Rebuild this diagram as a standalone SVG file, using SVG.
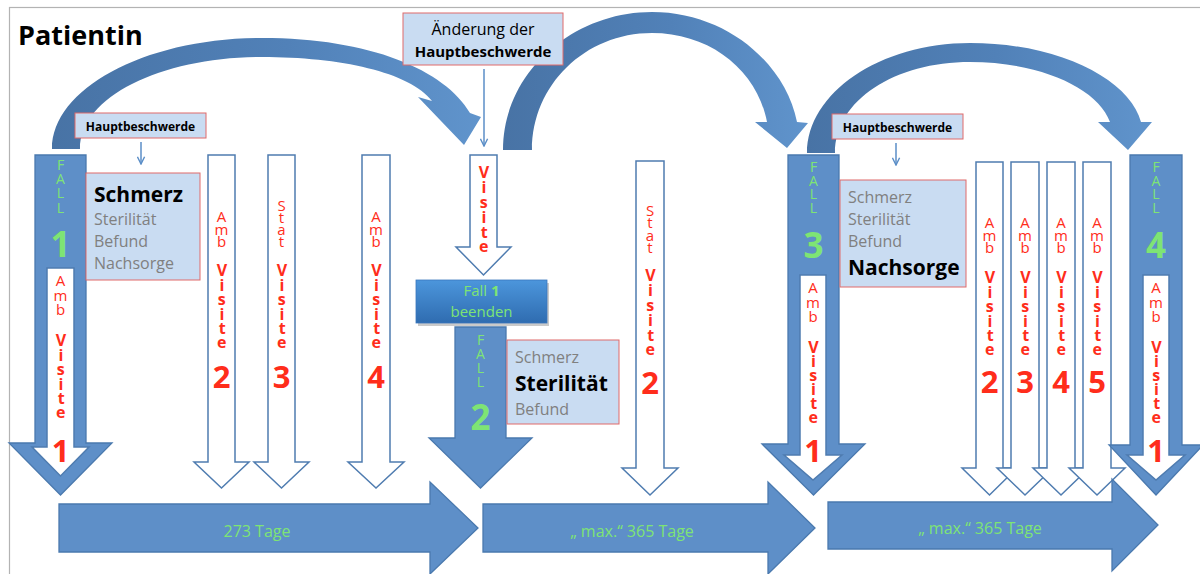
<svg xmlns="http://www.w3.org/2000/svg" width="1200" height="574" viewBox="0 0 1200 574">
<defs>
<linearGradient id="arcg" x1="0" y1="0" x2="1" y2="0">
<stop offset="0" stop-color="#4873a5"/><stop offset="0.55" stop-color="#5181b8"/><stop offset="1" stop-color="#6094cc"/>
</linearGradient>
<linearGradient id="btng" x1="0" y1="0" x2="0" y2="1">
<stop offset="0" stop-color="#4c96dc"/><stop offset="1" stop-color="#2f6cb0"/>
</linearGradient>
<marker id="thin" viewBox="0 0 10 10" refX="9" refY="5" markerWidth="9" markerHeight="9" markerUnits="userSpaceOnUse" orient="auto">
<path d="M1,1 L9,5 L1,9" fill="none" stroke="#5b8ec7" stroke-width="1.6"/>
</marker>
</defs>
<style>
text{font-family:"Open Sans","Liberation Sans",sans-serif}
.v{writing-mode:vertical-rl;text-orientation:upright}
.fall{fill:#5e8fc8;stroke:#4a79ae;stroke-width:1.3}
.vis{fill:#fff;stroke:#4f7cb0;stroke-width:1.5}
.box{fill:#c9dcf2;stroke:#e06a6a;stroke-width:1}
.r{fill:#ff2d1b;font-size:15px}
.rb{fill:#ff2d1b;font-size:16px;font-weight:700}
.rd{fill:#ff2d1b;font-size:31px;font-weight:700}
.g{fill:#7ee474;font-size:14px}
.gd{fill:#7ee474;font-size:35px;font-weight:700}
.gt{fill:#7ee474;font-size:16px}
.gb{fill:#7ee474;font-size:15px}
.gray{fill:#808080;font-size:16px}
.blk{fill:#000;font-size:21px;font-weight:700}
.hb{fill:#000;font-size:12px;font-weight:700}
.thin{stroke:#5b8ec7;stroke-width:1.5;fill:none}
</style>
<rect x="0" y="0" width="1200" height="574" fill="#fff"/>
<rect x="9.5" y="7.5" width="1200" height="600" fill="none" stroke="#b3b3b3" stroke-width="1.2"/>
<text x="18" y="45" style="font-size:27px;font-weight:700;fill:#000">Patientin</text>

<g id="connectors">
<path d="M52,149 C52,88 146,38 262,38 C370,38 445,70 470,113 L481,117 L464,145 L418,97 L432,101 C410,72 340,57 262,57 C165,57 80,95 80,149 Z" fill="url(#arcg)"/>
<path d="M503,150 C503,73 572,12 652,12 C725,12 785,62 797,122 L808,123 L787,148 L755,122 L767,122 C757,70 710,33 652,33 C585,33 532,85 532,150 Z" fill="url(#arcg)"/>
<path d="M807,153 C807,93 880,43 970,43 C1060,43 1130,80 1141,122 L1152,122 L1128,150 L1098,122 L1110,122 C1098,88 1040,62 970,62 C895,62 835,100 835,153 Z" fill="url(#arcg)"/>
<line class="thin" x1="141" y1="142" x2="141" y2="164" marker-end="url(#thin)"/>
<line class="thin" x1="896" y1="143" x2="896" y2="165" marker-end="url(#thin)"/>
<line class="thin" x1="484" y1="69" x2="484" y2="146" marker-end="url(#thin)"/>
</g>

<g id="hb1">
<rect class="box" x="75" y="113" width="131" height="25"/>
<text class="hb" x="140.5" y="131" text-anchor="middle">Hauptbeschwerde</text>
</g>
<g id="hb2">
<rect class="box" x="832" y="114" width="131" height="25"/>
<text class="hb" x="897.5" y="132" text-anchor="middle">Hauptbeschwerde</text>
</g>
<g id="aenderung">
<rect class="box" x="403" y="13" width="160" height="52"/>
<text x="483" y="35" text-anchor="middle" style="font-size:16px;fill:#000">Änderung der</text>
<text x="483" y="57" text-anchor="middle" style="font-size:15px;font-weight:700;fill:#000">Hauptbeschwerde</text>
</g>

<g id="fall1">
<polygon class="fall" points="35,155 86,155 86,443 112,443 60.5,495 9,443 35,443"/>
<text class="g v" x="60.5" y="155" letter-spacing="-4.77">FALL</text>
<text class="gd" x="60.5" y="257" text-anchor="middle">1</text>
<polygon class="vis" points="47,268 74,268 74,447 89,447 60.5,476 32,447 47,447"/>
<text class="r v" x="60.5" y="270" letter-spacing="-5.43">Amb</text>
<text class="rb v" x="60.5" y="329.3" letter-spacing="-7.59">Visite</text>
<text class="rd" x="60.5" y="462" text-anchor="middle">1</text>
</g>

<g id="beschwerden1">
<rect class="box" x="86" y="173" width="114" height="107"/>
<text class="blk" x="94" y="202">Schmerz</text>
<text class="gray" x="94" y="225">Sterilität</text>
<text class="gray" x="94" y="247">Befund</text>
<text class="gray" x="94" y="269">Nachsorge</text>
</g>

<g id="ambvisite2">
<polygon class="vis" points="208,155 235,155 235,462 249,462 221.5,488 194,462 208,462"/>
<text class="r v" x="221.5" y="206" letter-spacing="-7.43">Amb</text>
<text class="rb v" x="221.5" y="259.3" letter-spacing="-7.59">Visite</text>
<text class="rd" x="221.5" y="388" text-anchor="middle">2</text>
</g>
<g id="statvisite3">
<polygon class="vis" points="268,155 295,155 295,462 309,462 281.5,488 254,462 268,462"/>
<text class="r v" x="281.5" y="195" letter-spacing="-8.13">Stat</text>
<text class="rb v" x="281.5" y="259.3" letter-spacing="-7.59">Visite</text>
<text class="rd" x="281.5" y="388" text-anchor="middle">3</text>
</g>
<g id="ambvisite4">
<polygon class="vis" points="362,155 390,155 390,462 404,462 376,488 348,462 362,462"/>
<text class="r v" x="376" y="206" letter-spacing="-7.43">Amb</text>
<text class="rb v" x="376" y="259.3" letter-spacing="-7.59">Visite</text>
<text class="rd" x="376" y="388" text-anchor="middle">4</text>
</g>

<g id="visite-mitte">
<polygon class="vis" points="470,155 497,155 497,247 511,247 483.5,275 456,247 470,247"/>
<text class="rb v" x="483.5" y="161.3" letter-spacing="-7.19">Visite</text>
</g>

<g id="fall1beenden">
<rect x="418" y="283" width="131" height="43" fill="#8a8a8a" opacity="0.45"/>
<rect x="416" y="280" width="131" height="43" fill="url(#btng)" stroke="#3a77bd" stroke-width="0.8"/>
<text class="gb" x="481.5" y="296" text-anchor="middle">Fall <tspan font-weight="700">1</tspan></text>
<text class="gb" x="481.5" y="317" text-anchor="middle">beenden</text>
</g>

<g id="fall2">
<polygon class="fall" points="455,327 506,327 506,438 532,438 480.5,488 429,438 455,438"/>
<text class="g v" x="480.5" y="330" letter-spacing="-5.07">FALL</text>
<text class="gd" x="480.5" y="430" text-anchor="middle">2</text>
</g>
<g id="beschwerden2">
<rect class="box" x="507" y="340" width="112" height="84"/>
<text class="gray" x="515" y="363">Schmerz</text>
<text class="blk" x="515" y="391">Sterilität</text>
<text class="gray" x="515" y="415">Befund</text>
</g>

<g id="statvisite2">
<polygon class="vis" points="636,161 664,161 664,468 678,468 650,495 622,468 636,468"/>
<text class="r v" x="650" y="200" letter-spacing="-7.73">Stat</text>
<text class="rb v" x="650" y="264.3" letter-spacing="-7.19">Visite</text>
<text class="rd" x="650" y="394" text-anchor="middle">2</text>
</g>

<g id="fall3">
<polygon class="fall" points="788,155 839,155 839,444 865,444 813.5,495 762,444 788,444"/>
<text class="g v" x="813.5" y="157" letter-spacing="-5.37">FALL</text>
<text class="gd" x="813.5" y="258" text-anchor="middle">3</text>
<polygon class="vis" points="800,275 826,275 826,455 842,455 813,480 784,455 800,455"/>
<text class="r v" x="813" y="277" letter-spacing="-5.43">Amb</text>
<text class="rb v" x="813" y="336.3" letter-spacing="-7.99">Visite</text>
<text class="rd" x="813" y="462" text-anchor="middle">1</text>
</g>
<g id="beschwerden3">
<rect class="box" x="840" y="180" width="126" height="107"/>
<text class="gray" x="848" y="203">Schmerz</text>
<text class="gray" x="848" y="225">Sterilität</text>
<text class="gray" x="848" y="247">Befund</text>
<text class="blk" x="848" y="275">Nachsorge</text>
</g>

<g id="ambvisite-r2">
<polygon class="vis" points="976,162 1003,162 1003,468 1017,468 989.5,495 962,468 976,468"/>
<text class="r v" x="989.5" y="212" letter-spacing="-7.43">Amb</text>
<text class="rb v" x="989.5" y="266.3" letter-spacing="-7.59">Visite</text>
<text class="rd" x="989.5" y="393" text-anchor="middle">2</text>
</g>
<g id="ambvisite-r3">
<polygon class="vis" points="1011,162 1039,162 1039,468 1053,468 1025,495 997,468 1011,468"/>
<text class="r v" x="1025" y="212" letter-spacing="-7.43">Amb</text>
<text class="rb v" x="1025" y="266.3" letter-spacing="-7.59">Visite</text>
<text class="rd" x="1025" y="393" text-anchor="middle">3</text>
</g>
<g id="ambvisite-r4">
<polygon class="vis" points="1047,162 1075,162 1075,468 1089,468 1061,495 1033,468 1047,468"/>
<text class="r v" x="1061" y="212" letter-spacing="-7.43">Amb</text>
<text class="rb v" x="1061" y="266.3" letter-spacing="-7.59">Visite</text>
<text class="rd" x="1061" y="393" text-anchor="middle">4</text>
</g>
<g id="ambvisite-r5">
<polygon class="vis" points="1083,162 1111,162 1111,468 1125,468 1097,495 1069,468 1083,468"/>
<text class="r v" x="1097" y="212" letter-spacing="-7.43">Amb</text>
<text class="rb v" x="1097" y="266.3" letter-spacing="-7.59">Visite</text>
<text class="rd" x="1097" y="393" text-anchor="middle">5</text>
</g>

<g id="fall4">
<polygon class="fall" points="1130,155 1182,155 1182,445 1203,445 1156,495 1109,445 1130,445"/>
<text class="g v" x="1156" y="157" letter-spacing="-5.37">FALL</text>
<text class="gd" x="1156" y="258" text-anchor="middle">4</text>
<polygon class="vis" points="1143,275 1169,275 1169,455 1185,455 1156,480 1127,455 1143,455"/>
<text class="r v" x="1156" y="277" letter-spacing="-5.43">Amb</text>
<text class="rb v" x="1156" y="336.3" letter-spacing="-7.99">Visite</text>
<text class="rd" x="1156" y="462" text-anchor="middle">1</text>
</g>

<g id="zeit1">
<polygon class="fall" points="59,504 430,504 430,482 478,528 430,574 430,552 59,552"/>
<text class="gt" x="257" y="537" text-anchor="middle">273 Tage</text>
</g>
<g id="zeit2">
<polygon class="fall" points="483,504 768,504 768,482 815,528 768,574 768,552 483,552"/>
<text class="gt" x="632" y="537" text-anchor="middle">„ max.“ 365 Tage</text>
</g>
<g id="zeit3">
<polygon class="fall" points="828,502 1112,502 1112,479 1158,525 1112,571 1112,549 828,549"/>
<text class="gt" x="980" y="534" text-anchor="middle">„ max.“ 365 Tage</text>
</g>
</svg>
